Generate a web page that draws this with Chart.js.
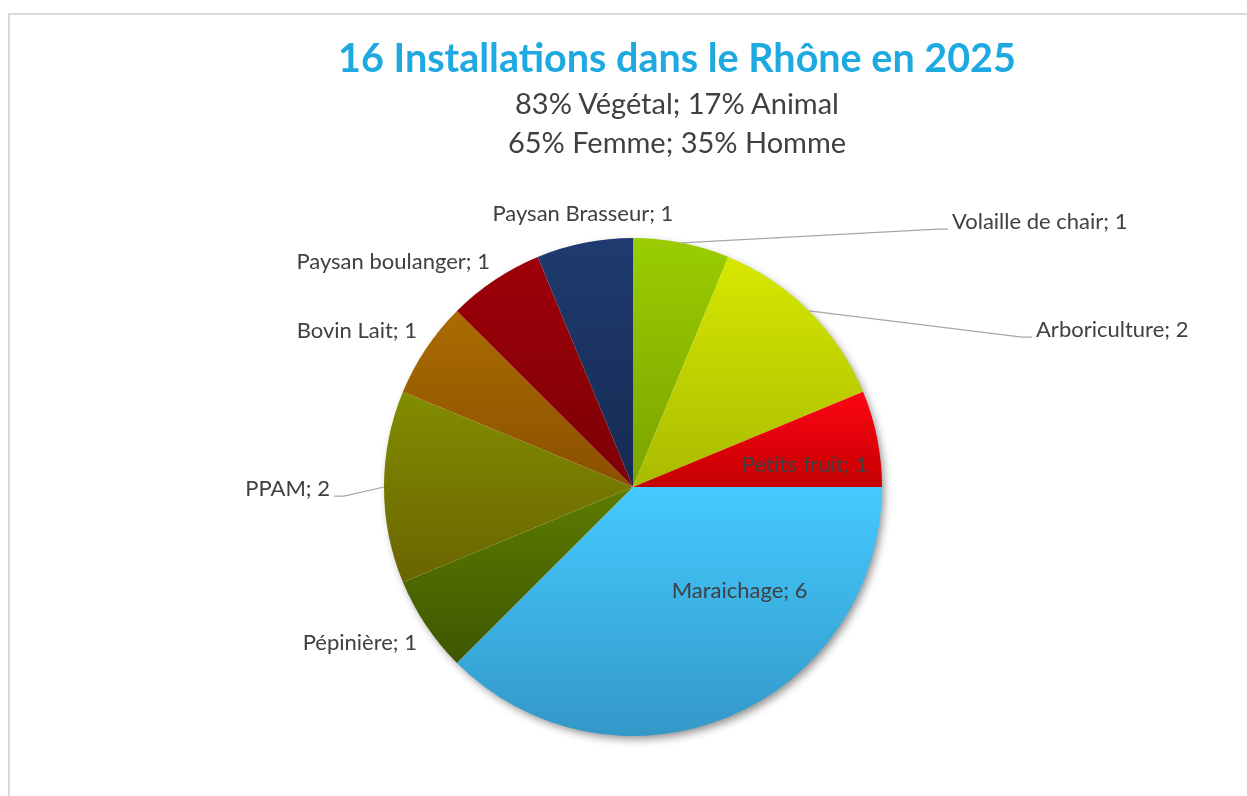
<!DOCTYPE html>
<html lang="fr">
<head>
<meta charset="utf-8">
<title>16 Installations dans le Rhône en 2025</title>
<script src="https://cdn.jsdelivr.net/npm/chart.js@4.4.1/dist/chart.umd.min.js"></script>
<style>
  html, body { margin: 0; width: 1247px; height: 796px; overflow: hidden; background: #fff; }
  #frame { position: absolute; left: 8px; top: 13px; width: 1334px; height: 800px;
           border: 2px solid #d9d9d9; background: #fff; }
  #frame canvas { display: block; }
  .hd { position: absolute; left: 177px; width: 1000px; text-align: center; white-space: nowrap;
        font-family: Lato, "Open Sans", sans-serif; }
  #hd-title { top: 33px; font-size: 39.5px; line-height: 47.4px; font-weight: bold; color: #1fa9e1; }
  #hd-sub   { top: 83px; font-size: 29px; line-height: 39px; color: #404040; }
</style>
</head>
<body>
<div id="frame"><canvas id="pie" width="1334" height="800"></canvas></div>
<div class="hd" id="hd-title"></div>
<div class="hd" id="hd-sub"></div>
<script>
// ── Data ──────────────────────────────────────────────────
const categories = ['Volaille de chair', 'Arboriculture', 'Petits fruit', 'Maraichage',
                    'Pépinière', 'PPAM', 'Bovin Lait', 'Paysan boulanger', 'Paysan Brasseur'];
const values     = [1, 2, 1, 6, 1, 2, 1, 1, 1];

const titleText    = '16 Installations dans le Rhône en 2025';
const subtitleText = ['83% Végétal; 17% Animal', '65% Femme; 35% Homme'];

// gradient stops per slice (top -> bottom of the slice)
const topColors    = ['#9acd00', '#d6e800', '#ff0515', '#45caff', '#5c7c00', '#828d00', '#ab6c00', '#9e0009', '#1f3b70'];
const bottomColors = ['#7ba300', '#a9bb00', '#c30000', '#3398c8', '#3f5600', '#6a6400', '#8a5000', '#7c0006', '#162a52'];

// label placement: r = distance in radii, turn = degrees off the slice middle
const labelLayout = [
  { mode: 'leader',  r: 1.665, turn: 39.05, align: 'left'   },
  { mode: 'leader',  r: 1.737, turn: 23.72, align: 'left'   },
  { mode: 'inside',  r: 0.696, turn: 3.96,  align: 'center' },
  { mode: 'inside',  r: 0.598, turn: -23.2, align: 'center' },
  { mode: 'outside', r: 1.07,  turn: -2.09, align: 'right'  },
  { mode: 'leader',  r: 1.217, turn: -0.4,  align: 'right'  },
  { mode: 'outside', r: 1.07,  turn: 2.09,  align: 'right'  },
  { mode: 'outside', r: 1.071, turn: 1.31,  align: 'right'  },
  { mode: 'outside', r: 1.115, turn: 0.85,  align: 'center' }
];

const FONT = 'Lato, "Open Sans", sans-serif';

document.getElementById('hd-title').textContent = titleText;
document.getElementById('hd-sub').innerHTML = subtitleText.join('<br>');

// ── Plugins ───────────────────────────────────────────────
function inArc(a, s, e) {
  let t = a;
  while (t < s) t += Math.PI * 2;
  return t <= e;
}

const sliceLook = {
  id: 'sliceLook',
  beforeDatasetsDraw(chart) {
    const arcs = chart.getDatasetMeta(0).data;
    if (!arcs.length) return;
    const ctx = chart.ctx;
    const { x, y, outerRadius } = arcs[0].getProps(['x', 'y', 'outerRadius']);

    // soft drop shadow under the whole pie
    ctx.save();
    ctx.shadowColor = 'rgba(0,0,0,0.45)';
    ctx.shadowBlur = 9;
    ctx.shadowOffsetX = 3;
    ctx.shadowOffsetY = 4;
    ctx.fillStyle = '#fff';
    ctx.beginPath();
    ctx.arc(x, y, outerRadius - 1, 0, Math.PI * 2);
    ctx.fill();
    ctx.restore();

    // vertical gradient per slice, spanning the slice's own height
    arcs.forEach((el, i) => {
      const p = el.getProps(['x', 'y', 'startAngle', 'endAngle', 'outerRadius']);
      const ys = [p.y, p.y + p.outerRadius * Math.sin(p.startAngle), p.y + p.outerRadius * Math.sin(p.endAngle)];
      if (inArc(Math.PI / 2, p.startAngle, p.endAngle))  ys.push(p.y + p.outerRadius);
      if (inArc(-Math.PI / 2, p.startAngle, p.endAngle)) ys.push(p.y - p.outerRadius);
      const g = ctx.createLinearGradient(0, Math.min(...ys), 0, Math.max(...ys));
      g.addColorStop(0, topColors[i]);
      g.addColorStop(1, bottomColors[i]);
      el.options.backgroundColor = g;
    });
  }
};

const sliceLabels = {
  id: 'sliceLabels',
  afterDatasetsDraw(chart) {
    const ctx = chart.ctx;
    ctx.save();
    ctx.font = `22px ${FONT}`;
    ctx.fillStyle = '#404040';
    ctx.strokeStyle = '#a6a6a6';
    ctx.lineWidth = 1.2;
    ctx.textBaseline = 'middle';
    chart.getDatasetMeta(0).data.forEach((el, i) => {
      const p   = el.getProps(['x', 'y', 'startAngle', 'endAngle', 'outerRadius']);
      const lay = labelLayout[i];
      const mid = (p.startAngle + p.endAngle) / 2;
      const ang = mid + lay.turn * Math.PI / 180;
      const ax  = p.x + lay.r * p.outerRadius * Math.cos(ang);
      const ay  = p.y + lay.r * p.outerRadius * Math.sin(ang);

      if (lay.mode === 'leader') {
        const ex   = p.x + p.outerRadius * Math.cos(mid);
        const ey   = p.y + p.outerRadius * Math.sin(mid);
        const side = lay.align === 'left' ? -1 : 1;
        ctx.beginPath();
        ctx.moveTo(ex, ey);
        ctx.lineTo(ax + side * 14, ay + 7);
        ctx.lineTo(ax + side * 4, ay + 7);
        ctx.stroke();
      }
      ctx.textAlign = lay.align;
      ctx.fillText(`${categories[i]}; ${values[i]}`, ax, ay);
    });
    ctx.restore();
  }
};

// ── Chart ─────────────────────────────────────────────────
new Chart(document.getElementById('pie').getContext('2d'), {
  type: 'pie',
  data: {
    labels: categories,
    datasets: [{
      data: values,
      backgroundColor: topColors,
      borderWidth: 0,
      radius: 249
    }]
  },
  options: {
    responsive: false,
    animation: false,
    layout: { padding: { left: 0, right: 88, top: 144, bottom: 0 } },
    plugins: {
      legend: { display: false },
      tooltip: { enabled: false }
    }
  },
  plugins: [sliceLook, sliceLabels]
});
</script>
</body>
</html>
